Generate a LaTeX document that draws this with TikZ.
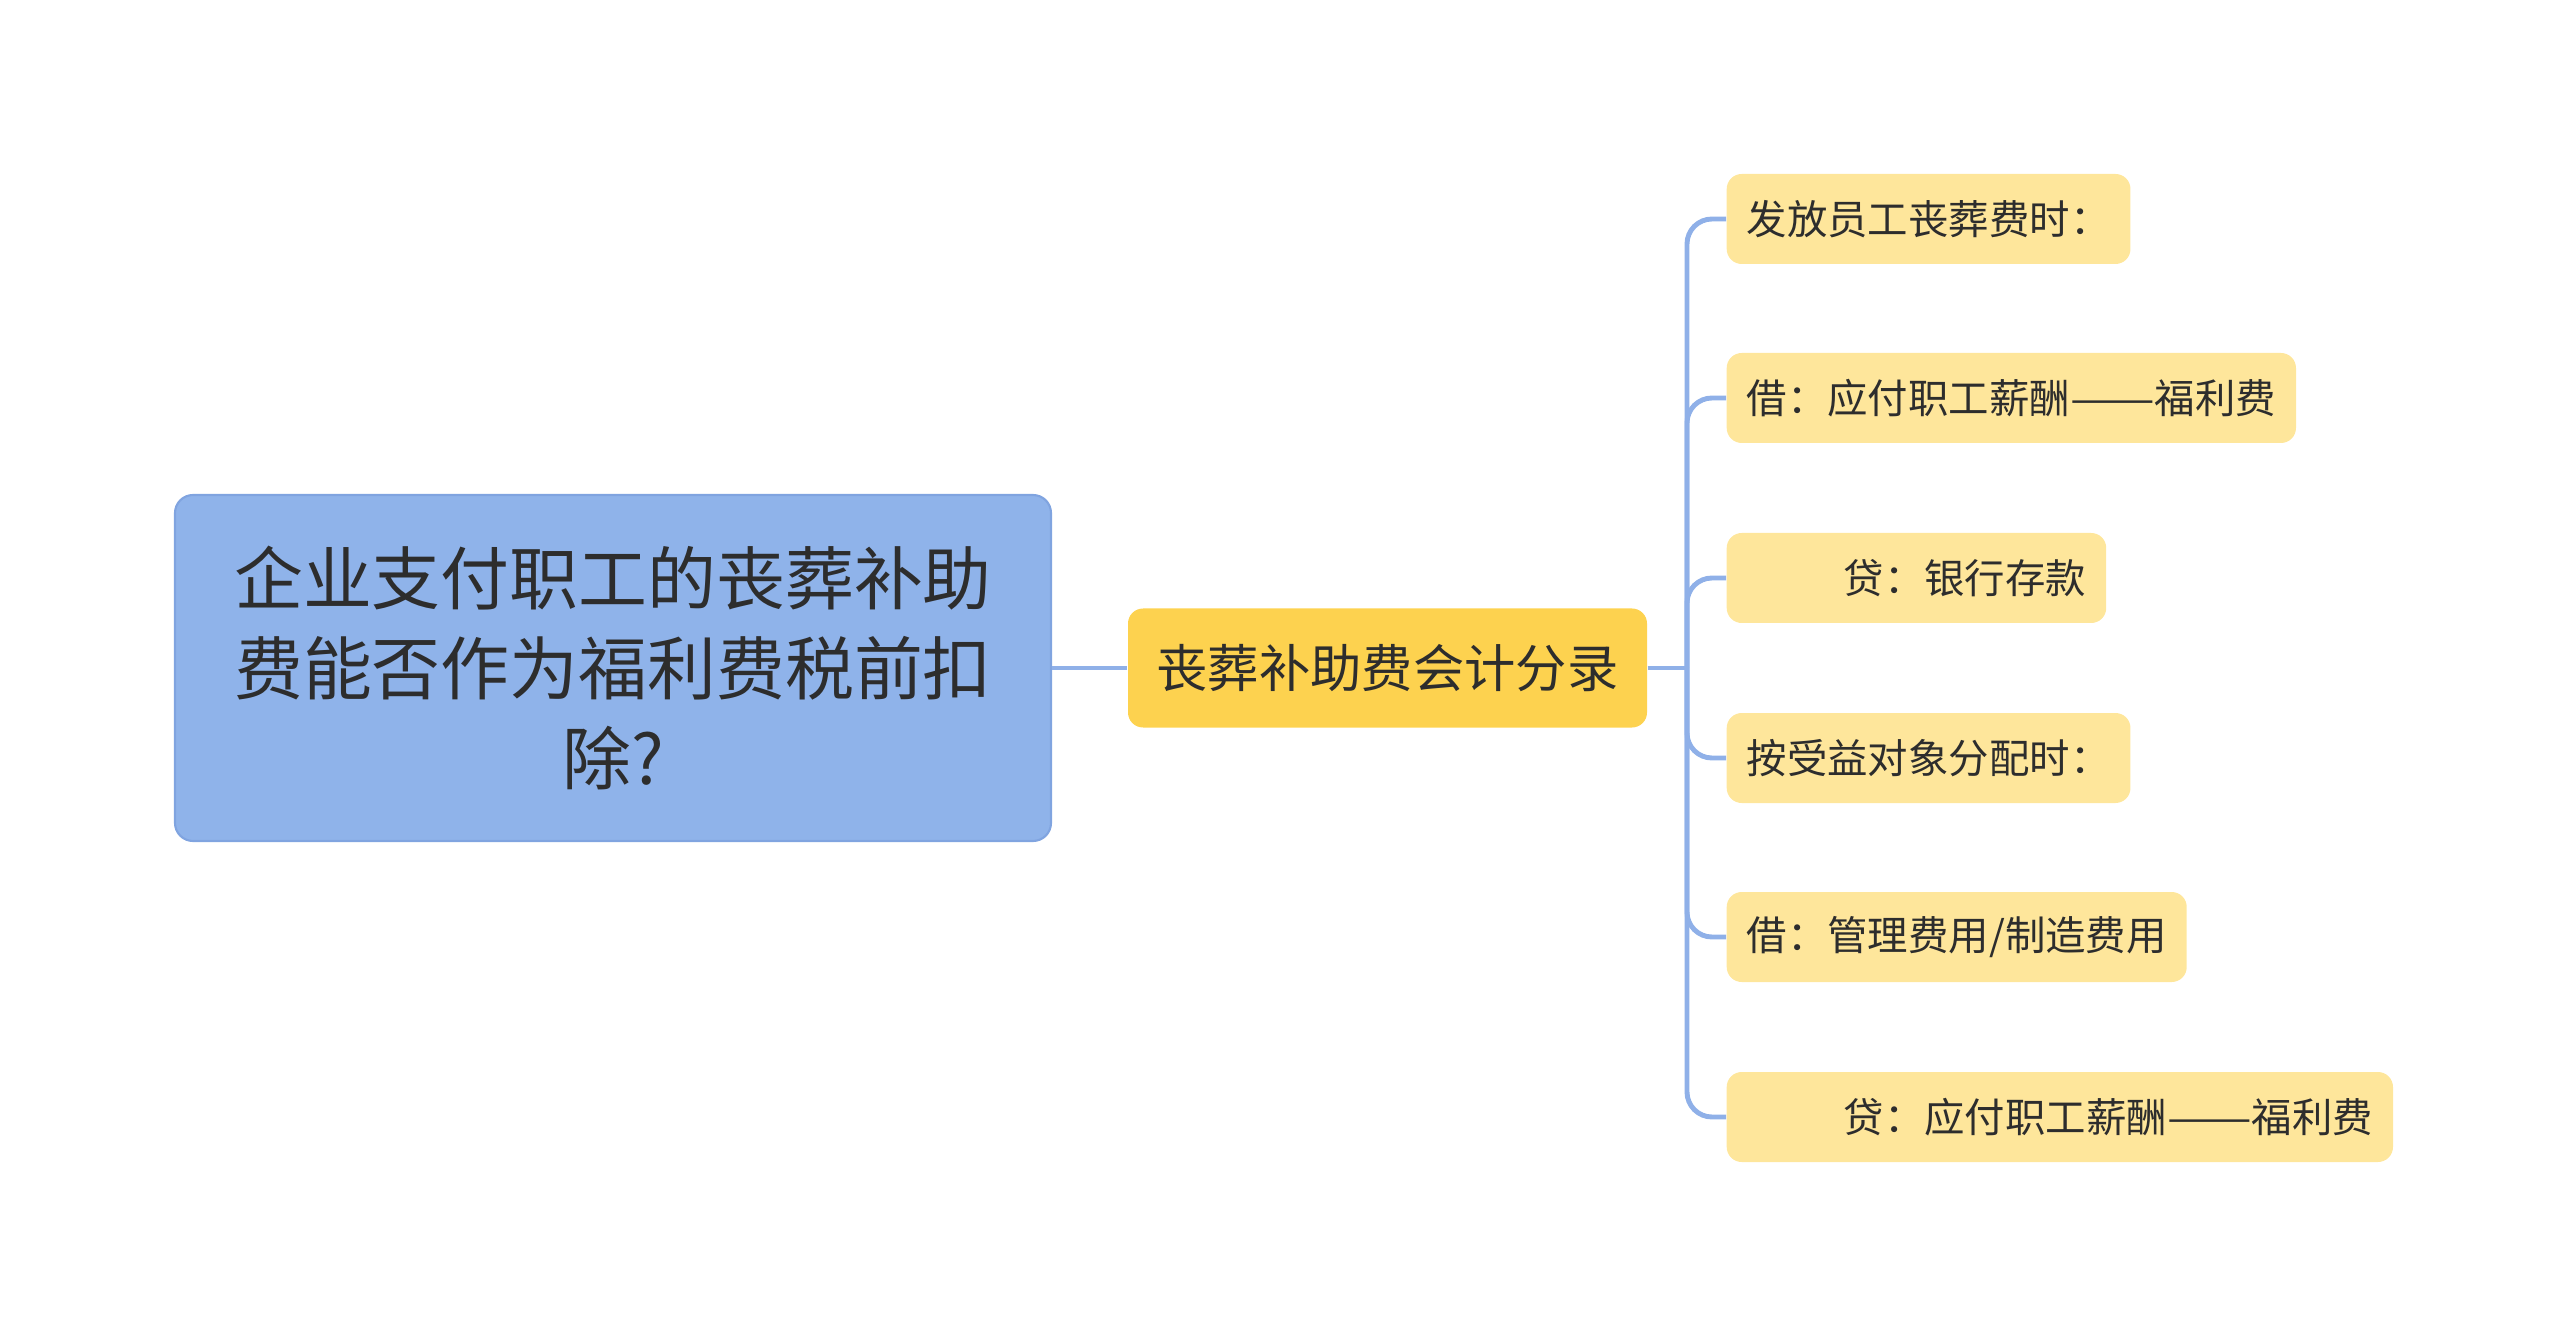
\documentclass[tikz,border=0pt]{standalone}
\usepackage{fontspec}
\setmainfont{Noto Sans CJK SC}
\usetikzlibrary{positioning}
\definecolor{rootblue}{RGB}{143,179,234}
\definecolor{rootedge}{RGB}{128,164,224}
\definecolor{midyellow}{RGB}{253,210,79}
\definecolor{leafyellow}{RGB}{254,230,155}
\definecolor{linkblue}{RGB}{143,176,232}
\definecolor{txt}{RGB}{45,45,45}
\newcommand{\longdash}{\scalebox{1.25}[1]{——}}
\tikzset{
  rootbox/.style={draw=rootedge,line width=0.6pt,fill=rootblue,rounded corners=0.18cm,text=txt,align=center,
    minimum width=8.76cm,minimum height=3.46cm,font=\fontsize{19.6pt}{25.6pt}\selectfont},
  midbox/.style={fill=midyellow,rounded corners=0.15cm,text=txt,minimum width=5.19cm,minimum height=1.19cm,
    font=\fontsize{14.6pt}{18pt}\selectfont},
  leafbox/.style={fill=leafyellow,rounded corners=0.15cm,text=txt,minimum height=0.9cm,inner xsep=0.2cm,
    anchor=west,font=\fontsize{11.5pt}{14pt}\selectfont},
  link/.style={draw=linkblue,line width=1.4pt,rounded corners=0.25cm}
}

\begin{document}
\begin{tikzpicture}
  \useasboundingbox (0,0) rectangle (25.6,-13.37);
  \node[rootbox] (root) at (6.13,-6.68) {企业支付职工的丧葬补助\\费能否作为福利费税前扣\\除?};
  \node[midbox] (mid) at (13.875,-6.68) {丧葬补助费会计分录};
  \node[leafbox] (l1) at (17.26,-2.19) {发放员工丧葬费时：};
  \node[leafbox] (l2) at (17.26,-3.98) {借：应付职工薪酬\longdash 福利费};
  \node[leafbox] (l3) at (17.26,-5.78) {\hspace*{2.4em}贷：银行存款};
  \node[leafbox] (l4) at (17.26,-7.58) {按受益对象分配时：};
  \node[leafbox] (l5) at (17.26,-9.37) {借：管理费用/制造费用};
  \node[leafbox] (l6) at (17.26,-11.17) {\hspace*{2.4em}贷：应付职工薪酬\longdash 福利费};
  \coordinate (fork) at (16.87,-6.68);
  \draw[link] (root) -- (mid);
  \draw[link] (mid) -- (fork);
  \foreach \n in {l1,l2,l3,l4,l5,l6}
    \draw[link] (fork) |- (\n.west);
\end{tikzpicture}
\end{document}
